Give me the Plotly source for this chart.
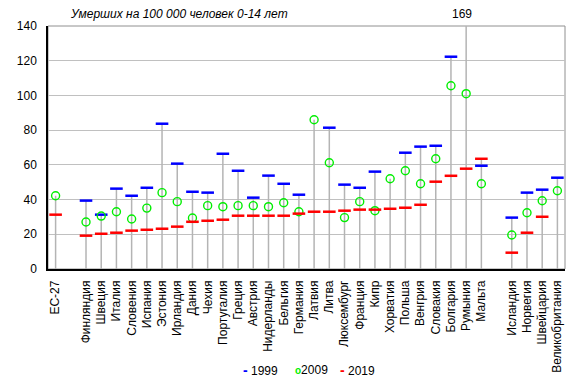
import plotly.graph_objects as go

categories = ["ЕС-27", "", "Финляндия", "Швеция", "Италия", "Словения", "Испания", "Эстония",
              "Ирландия", "Дания", "Чехия", "Португалия", "Греция", "Австрия", "Нидерланды",
              "Бельгия", "Германия", "Латвия", "Литва", "Люксембург", "Франция", "Кипр",
              "Хорватия", "Польша", "Венгрия", "Словакия", "Болгария", "Румыния", "Мальта", "",
              "Исландия", "Норвегия", "Швейцария", "Великобритания"]

v1999 = [None, None, 39.4, 31.3, 46.3, 42.2, 46.8, 83.7, 60.7, 44.5, 44.0, 66.4, 56.6, 41.1,
         53.8, 49.1, 42.8, None, 81.4, 48.6, 46.8, 56.1, None, 67.0, 70.5, 71.0, 122.3, 169,
         59.5, None, 29.6, 44.0, 45.7, 52.6]
v2009 = [42.2, None, 27.1, 30.5, 33.0, 28.8, 35.1, 44.0, 38.8, 29.4, 36.5, 35.9, 36.5, 36.5,
         35.9, 38.2, 33.0, 86.0, 61.2, 29.6, 38.8, 33.6, 52.0, 56.6, 49.1, 63.5, 105.6, 101.0,
         49.1, None, 19.6, 32.4, 39.3, 45.1]
v2019 = [31.3, None, 19.2, 20.3, 20.9, 22.1, 22.6, 23.2, 24.4, 27.2, 27.8, 28.4, 30.7, 30.7,
         30.7, 30.7, 31.9, 33.0, 33.0, 33.6, 34.2, 34.2, 34.7, 35.3, 37.0, 50.3, 53.7, 57.8,
         63.5, None, 9.4, 20.9, 30.1, None]

series_names = ["1999", "2009", "2019"]
series_colors = ["#0000ff", "#00ee00", "#ff0000"]
title_text = "Умерших на 100 000 человек 0-14 лет"
FONT = "Arial, Liberation Sans, sans-serif"

xs = list(range(len(categories)))

# drop lines from 0 to the max value of each category
dx, dy = [], []
for i in xs:
    vals = [v for v in (v1999[i], v2009[i], v2019[i]) if v is not None]
    if vals:
        dx += [i, i, None]
        dy += [0, max(vals), None]

fig = go.Figure()
fig.add_trace(go.Scatter(x=dx, y=dy, mode="lines", line=dict(color="#b4b4b4", width=1.5),
                         showlegend=False, hoverinfo="skip"))
fig.add_trace(go.Scatter(x=xs, y=v1999, mode="markers", name=series_names[0], showlegend=False,
                         marker=dict(symbol="line-ew", size=9, color=series_colors[0],
                                     line=dict(color=series_colors[0], width=2.5))))
fig.add_trace(go.Scatter(x=xs, y=v2009, mode="markers", name=series_names[1], showlegend=False,
                         marker=dict(symbol="circle-open", size=8, color=series_colors[1],
                                     line=dict(color=series_colors[1], width=1.4))))
fig.add_trace(go.Scatter(x=xs, y=v2019, mode="markers", name=series_names[2], showlegend=False,
                         marker=dict(symbol="line-ew", size=9, color=series_colors[2],
                                     line=dict(color=series_colors[2], width=2.5))))

ymax = 140
annotations = [dict(text="<i>" + title_text + "</i>", xref="paper", yref="paper", x=0.038, y=1.0,
                    xanchor="left", yanchor="bottom", yshift=3, showarrow=False,
                    font=dict(family=FONT, size=12, color="black"))]
for i in xs:
    if v1999[i] is not None and v1999[i] > ymax:
        annotations.append(dict(text=f"{v1999[i]:.0f}", x=i, xref="x", yref="paper", y=1.0,
                                xanchor="center", yanchor="bottom", xshift=-4, yshift=3,
                                showarrow=False, font=dict(family=FONT, size=12, color="black")))

# legend drawn as text items (symbol + label)
legend_items = [
    ("<span style='color:#0000ff; font-size:14px'><b>-</b></span> ", 0.374),
    ("<span style='color:#00ee00; font-size:10px'><b>o</b></span>", 0.474),
    ("<span style='color:#ff0000; font-size:14px'><b>-</b></span> ", 0.560),
]
for name, (sym, lx) in zip(series_names, legend_items):
    annotations.append(dict(
        text=sym + name,
        xref="paper", yref="paper", x=lx, y=-0.415, xanchor="left", yanchor="middle",
        showarrow=False, font=dict(family=FONT, size=12, color="black")))

tickvals = [i for i in xs if categories[i]]
ticktext = [categories[i] for i in tickvals]

# page body has an 8px margin, so the figure is 8px smaller with 8px smaller left/top margins
fig.update_layout(
    width=571, height=383,
    margin=dict(l=40, r=14, t=18, b=122),
    paper_bgcolor="white", plot_bgcolor="white",
    font=dict(family=FONT, size=12, color="black"),
    showlegend=False,
    annotations=annotations,
    shapes=[dict(type="rect", xref="paper", yref="paper", x0=0, x1=1, y0=0, y1=1,
                 line=dict(color="#909090", width=1), layer="below")],
)
fig.update_xaxes(range=[-0.5, len(categories) - 0.5], tickmode="array", tickvals=tickvals,
                 ticktext=ticktext, tickangle=-90, showgrid=False, zeroline=False,
                 showline=True, linecolor="black", linewidth=1.5, ticks="", ticklabelstandoff=5,
                 automargin=False, tickfont=dict(family=FONT, size=12))
fig.update_yaxes(range=[0, ymax], dtick=20, showgrid=True, gridcolor="#c0c0c0", gridwidth=1,
                 zeroline=False, showline=True, linecolor="black", linewidth=1.5, ticks="",
                 ticklabelstandoff=7, automargin=False, tickfont=dict(family=FONT, size=12))

fig.write_html("out.html")
